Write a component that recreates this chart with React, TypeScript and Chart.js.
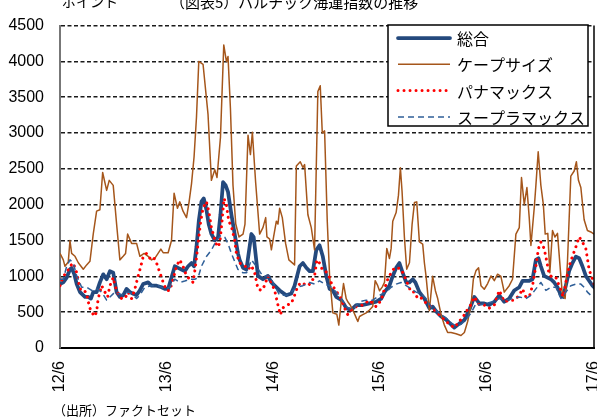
import React, { useEffect, useRef } from "react";
import { Chart, registerables } from "chart.js";

Chart.register(...registerables);

// ---- data (x = months since 2012/6) ----
const tickMonths = [0, 12, 24, 36, 48, 60];
const tickLabels = ["12/6", "13/6", "14/6", "15/6", "16/6", "17/6"];
const seriesNames = ["総合", "ケープサイズ", "パナマックス", "スープラマックス"];
const yTicks = [0, 500, 1000, 1500, 2000, 2500, 3000, 3500, 4000, 4500];

const compositeMonths = [0, 0.37, 0.75, 1.12, 1.31, 1.61, 1.88, 2.25, 2.81, 3.18, 3.48, 3.74, 4.12, 4.49, 4.87, 5.25, 5.62, 5.99, 6.37, 6.74, 7.11, 7.49, 7.87, 8.24, 8.62, 8.99, 9.36, 9.92, 10.3, 10.87, 11.43, 11.8, 12.17, 12.55, 12.92, 13.29, 13.67, 14.04, 14.42, 14.8, 15.09, 15.36, 15.62, 15.92, 16.18, 16.48, 16.74, 17.04, 17.42, 17.79, 18.06, 18.35, 18.65, 18.91, 19.29, 19.66, 20.03, 20.22, 20.6, 20.98, 21.54, 21.8, 22.28, 22.84, 23.4, 23.79, 24.16, 24.72, 25.47, 26.03, 26.4, 26.97, 27.34, 27.72, 28.09, 28.46, 28.84, 29.21, 29.58, 29.97, 30.34, 30.71, 31.09, 31.65, 32.02, 32.21, 32.78, 33.34, 34.08, 34.83, 35.58, 36.15, 36.52, 37.08, 37.45, 37.83, 38.2, 38.57, 38.96, 39.33, 39.7, 40.0, 40.45, 41.01, 41.57, 41.94, 42.33, 42.89, 43.45, 44.01, 44.38, 44.94, 45.51, 46.07, 46.63, 47.19, 47.75, 48.31, 48.88, 49.44, 50.0, 50.56, 51.12, 51.69, 52.06, 52.43, 52.81, 53.18, 53.56, 53.85, 54.12, 54.49, 54.87, 55.25, 55.62, 55.99, 56.37, 56.63, 56.93, 57.3, 57.67, 58.06, 58.43, 58.8, 59.18, 59.55, 59.93, 60.3];
const compositeValues = [893, 916, 983, 1096, 1118, 1028, 893, 780, 713, 713, 690, 780, 780, 916, 1028, 960, 1073, 1051, 780, 713, 735, 825, 780, 758, 740, 803, 893, 916, 870, 870, 848, 825, 825, 983, 1141, 1118, 1096, 1073, 1141, 1186, 1141, 1412, 1772, 2043, 2088, 1930, 1727, 1592, 1502, 1547, 1863, 2314, 2268, 2178, 1863, 1592, 1321, 1230, 1120, 1095, 1591, 1547, 1006, 960, 1006, 915, 870, 803, 735, 760, 870, 1141, 1186, 1120, 1073, 1073, 1366, 1433, 1276, 1006, 825, 800, 713, 670, 600, 555, 532, 600, 600, 622, 645, 690, 780, 870, 1006, 1118, 1186, 1050, 915, 915, 960, 915, 780, 690, 555, 577, 510, 442, 397, 330, 284, 340, 390, 532, 713, 622, 622, 600, 645, 735, 645, 690, 803, 848, 938, 938, 938, 960, 1230, 1253, 1141, 1006, 983, 960, 915, 848, 735, 713, 870, 1073, 1186, 1276, 1253, 1141, 1006, 938, 870, 825];

const capeMonths = [0, 0.37, 0.56, 0.93, 1.12, 1.31, 1.69, 2.06, 2.62, 3.0, 3.37, 3.74, 4.12, 4.49, 4.8, 5.25, 5.54, 5.99, 6.37, 6.74, 7.11, 7.38, 7.61, 8.06, 8.62, 8.99, 9.47, 9.92, 10.3, 10.67, 11.04, 11.35, 11.61, 12.17, 12.55, 12.84, 13.22, 13.48, 13.85, 14.24, 14.53, 14.8, 15.09, 15.36, 15.62, 16.1, 16.66, 17.04, 17.42, 17.67, 18.06, 18.43, 18.73, 18.91, 19.18, 19.47, 19.78, 20.15, 20.6, 20.82, 21.16, 21.43, 21.65, 22.02, 22.47, 22.84, 23.15, 23.29, 23.6, 23.79, 24.04, 24.35, 24.53, 24.72, 25.02, 25.39, 25.76, 26.4, 26.6, 27.04, 27.34, 27.53, 27.9, 28.28, 28.65, 29.02, 29.29, 29.52, 29.78, 30.08, 30.34, 30.71, 31.16, 31.38, 31.65, 31.91, 32.21, 32.39, 32.66, 32.96, 33.34, 33.52, 33.71, 34.08, 34.46, 34.83, 35.2, 35.47, 35.76, 35.96, 36.26, 36.52, 36.78, 37.08, 37.27, 37.45, 37.83, 38.09, 38.31, 38.5, 38.76, 39.02, 39.33, 39.63, 39.89, 40.15, 40.45, 40.82, 41.01, 41.2, 41.57, 41.94, 42.25, 42.51, 42.89, 43.26, 43.63, 44.01, 44.57, 45.13, 45.51, 45.88, 46.26, 46.52, 46.82, 47.11, 47.38, 47.75, 48.13, 48.51, 48.88, 49.25, 49.62, 50.0, 50.56, 50.93, 51.31, 51.69, 51.94, 52.25, 52.55, 52.81, 53.0, 53.37, 53.56, 53.82, 54.12, 54.4, 54.61, 54.9, 55.13, 55.43, 55.7, 55.99, 56.37, 56.55, 56.85, 57.11, 57.49, 57.87, 58.12, 58.35, 58.62, 58.99, 59.36, 59.74, 60.11, 60.3];
const capeValues = [1320, 1230, 1140, 1200, 1500, 1320, 1280, 1190, 1100, 1160, 1210, 1590, 1910, 1930, 2450, 2200, 2340, 2270, 1730, 1230, 1280, 1320, 1590, 1460, 1460, 1280, 1320, 1280, 1230, 1250, 1320, 1380, 1330, 1330, 1500, 2160, 1950, 2040, 1910, 1820, 2040, 2290, 2670, 3220, 4000, 3960, 3260, 2340, 2490, 2380, 2940, 4230, 4000, 4070, 3350, 2270, 1730, 1550, 1590, 1730, 2970, 2700, 3010, 2310, 1590, 1680, 1820, 1550, 1520, 1370, 1550, 1770, 1730, 1950, 1820, 1460, 1230, 1160, 2540, 2600, 2520, 2560, 1860, 1680, 1370, 3580, 3660, 3000, 3030, 1770, 1010, 490, 470, 320, 645, 900, 690, 645, 600, 530, 420, 370, 440, 465, 490, 530, 580, 940, 870, 800, 850, 915, 1390, 1250, 1390, 1770, 1890, 2130, 2515, 2180, 1550, 1100, 1190, 1730, 2030, 2040, 1480, 1450, 1190, 1000, 520, 1000, 800, 690, 465, 320, 216, 216, 200, 175, 216, 370, 600, 960, 1080, 1120, 870, 820, 900, 1006, 940, 1030, 1000, 780, 870, 960, 1590, 1680, 2380, 2000, 2240, 1820, 1430, 1950, 2270, 2740, 2270, 2000, 1590, 1600, 1050, 1640, 1550, 1600, 1000, 735, 690, 1190, 2400, 2470, 2600, 2340, 2240, 1790, 1640, 1620, 1590, 1370];

const panamaxMonths = [0, 0.37, 0.75, 1.12, 1.49, 1.88, 2.25, 2.62, 3.0, 3.18, 3.37, 3.63, 3.93, 4.12, 4.3, 4.69, 5.06, 5.36, 5.62, 5.99, 6.18, 6.55, 6.93, 7.3, 7.67, 8.06, 8.43, 8.8, 9.1, 9.36, 9.74, 10.11, 10.48, 10.87, 11.24, 11.61, 11.99, 12.36, 12.73, 13.11, 13.48, 13.85, 14.24, 14.61, 14.98, 15.25, 15.54, 15.84, 16.1, 16.48, 16.74, 17.04, 17.34, 17.67, 17.98, 18.24, 18.46, 18.73, 18.99, 19.29, 19.66, 19.85, 20.22, 20.79, 21.16, 21.54, 21.91, 22.28, 22.66, 23.03, 23.4, 23.79, 24.16, 24.53, 24.8, 25.09, 25.54, 26.03, 26.4, 26.78, 27.16, 27.53, 27.9, 28.28, 28.65, 28.91, 29.21, 29.52, 29.89, 30.26, 30.64, 31.09, 31.46, 31.65, 32.02, 32.39, 32.78, 33.34, 34.08, 34.83, 35.58, 36.15, 36.52, 36.89, 37.27, 37.64, 38.01, 38.39, 38.76, 39.13, 39.52, 39.89, 40.26, 40.64, 41.01, 41.57, 42.13, 42.7, 43.26, 43.82, 44.38, 44.94, 45.31, 45.69, 46.07, 46.63, 47.19, 47.75, 48.31, 48.88, 49.44, 50.0, 50.56, 51.12, 51.69, 52.06, 52.43, 52.81, 53.18, 53.56, 53.85, 54.12, 54.49, 54.75, 55.06, 55.43, 55.81, 56.18, 56.63, 57.0, 57.3, 57.67, 58.06, 58.43, 58.8, 59.18, 59.55, 59.93, 60.3];
const panamaxValues = [870, 1006, 1051, 1141, 1186, 1051, 825, 825, 758, 645, 555, 487, 442, 510, 690, 870, 780, 713, 870, 983, 870, 758, 690, 690, 780, 690, 825, 1006, 1141, 1276, 1321, 1254, 1276, 1186, 1051, 916, 803, 803, 960, 1141, 1231, 1141, 1006, 960, 916, 1141, 1457, 1772, 1953, 2043, 1908, 1682, 1547, 1412, 1457, 1772, 2088, 1998, 1772, 1700, 1500, 1321, 1186, 1150, 1095, 1150, 1050, 825, 803, 870, 1006, 915, 803, 600, 465, 560, 600, 620, 735, 870, 915, 890, 870, 915, 1006, 1230, 1186, 1095, 1073, 1006, 870, 800, 713, 690, 560, 465, 532, 577, 600, 668, 577, 668, 825, 960, 1050, 1118, 1118, 1100, 1006, 892, 780, 780, 690, 700, 645, 600, 532, 465, 397, 330, 284, 374, 419, 510, 560, 713, 600, 600, 555, 600, 803, 645, 668, 668, 735, 825, 713, 713, 870, 1141, 1388, 1479, 1388, 1230, 1027, 983, 983, 870, 713, 960, 1141, 1276, 1411, 1550, 1479, 1388, 1095, 960, 825];

const supramaxMonths = [0, 0.37, 0.75, 1.12, 1.49, 1.88, 2.44, 3.0, 3.56, 4.12, 4.69, 5.25, 5.62, 6.18, 6.55, 7.11, 7.67, 8.06, 8.62, 8.99, 9.55, 10.3, 11.04, 11.8, 12.36, 12.92, 13.48, 14.04, 14.61, 15.17, 15.54, 15.92, 16.48, 17.04, 17.61, 18.09, 18.54, 18.91, 19.29, 19.66, 20.03, 20.6, 21.0, 21.54, 22.1, 22.81, 23.6, 24.16, 24.72, 25.47, 26.03, 26.6, 27.34, 28.09, 28.65, 29.21, 29.78, 30.34, 31.09, 31.65, 32.21, 32.96, 33.71, 34.46, 35.2, 35.96, 36.71, 37.27, 37.83, 38.39, 38.96, 39.52, 40.08, 40.64, 41.2, 41.76, 42.33, 42.89, 43.45, 44.01, 44.57, 45.13, 45.69, 46.26, 46.82, 47.19, 47.94, 48.69, 49.44, 50.19, 50.93, 51.69, 52.43, 53.0, 53.56, 54.12, 54.69, 55.25, 55.81, 56.37, 56.93, 57.49, 58.06, 58.62, 58.99, 59.36, 59.74, 60.11];
const supramaxValues = [960, 960, 1141, 1231, 1186, 1006, 848, 848, 803, 825, 780, 667, 713, 780, 760, 740, 780, 760, 690, 740, 848, 870, 870, 825, 848, 960, 916, 935, 960, 960, 980, 1141, 1276, 1366, 1502, 1570, 1547, 1457, 1321, 1208, 1096, 1050, 1050, 1230, 1140, 1006, 1006, 870, 735, 735, 780, 848, 870, 915, 892, 938, 892, 870, 780, 690, 577, 532, 645, 668, 668, 735, 780, 848, 892, 915, 870, 825, 780, 758, 690, 577, 532, 465, 419, 352, 307, 330, 397, 487, 622, 600, 622, 645, 690, 668, 690, 713, 690, 735, 825, 915, 803, 848, 848, 690, 780, 870, 892, 892, 848, 780, 735, 713];

const FONT = '"Liberation Sans", "Noto Sans CJK JP", sans-serif';
const JFONT = '"Noto Sans CJK JP", "Liberation Sans", sans-serif';

const styles = [
  { color: "#24497D", width: 3.75, dash: [] as number[], cap: "round" as CanvasLineCap },
  { color: "#A5561B", width: 1.5, dash: [] as number[], cap: "butt" as CanvasLineCap },
  { color: "#FF0000", width: 3, dash: [0.01, 6], cap: "round" as CanvasLineCap },
  { color: "#2F5F98", width: 1.5, dash: [6, 4], cap: "butt" as CanvasLineCap },
];

function pts(xs: number[], ys: number[]) {
  return xs.map((x, i) => ({ x, y: ys[i] }));
}

const decorPlugin = {
  id: "decor",
  afterDraw(chart: any) {
    const ctx: CanvasRenderingContext2D = chart.ctx;
    const a = chart.chartArea;
    ctx.save();
    // right border
    ctx.strokeStyle = "#000";
    ctx.lineWidth = 1.5;
    ctx.setLineDash([]);
    ctx.beginPath();
    ctx.moveTo(a.right, a.top);
    ctx.lineTo(a.right, a.bottom);
    ctx.stroke();

    // legend box
    const lx = 388, ly = 25, lw = 200, lh = 101;
    ctx.fillStyle = "#fff";
    ctx.fillRect(lx, ly, lw, lh);
    ctx.strokeStyle = "#000";
    ctx.lineWidth = 1.5;
    ctx.strokeRect(lx, ly, lw, lh);
    ctx.font = `16px ${JFONT}`;
    ctx.textBaseline = "middle";
    ctx.textAlign = "left";
    seriesNames.forEach((name, i) => {
      const y = ly + 13 + i * 26.3;
      const s = styles[i];
      ctx.save();
      ctx.strokeStyle = s.color;
      ctx.lineWidth = s.width;
      ctx.lineCap = s.cap;
      ctx.setLineDash(s.dash);
      ctx.beginPath();
      ctx.moveTo(398, y);
      ctx.lineTo(450, y);
      ctx.stroke();
      ctx.restore();
      ctx.fillStyle = "#000";
      ctx.fillText(name, 457, y + 1);
    });

    // title (cut off at top), unit and source
    ctx.fillStyle = "#000";
    ctx.textBaseline = "ideographic";
    ctx.font = `15px ${JFONT}`;
    ctx.fillText("（図表5）バルチック海運指数の推移", 170, 10);
    ctx.font = `14px ${JFONT}`;
    ctx.fillText("ポイント", 62, 9);
    ctx.textBaseline = "middle";
    ctx.font = `13px ${JFONT}`;
    ctx.fillText("（出所）ファクトセット", 53, 410);
    ctx.restore();
  },
};

export default function App() {
  const ref = useRef<HTMLCanvasElement | null>(null);

  useEffect(() => {
    if (!ref.current) return;
    const all = [
      pts(compositeMonths, compositeValues),
      pts(capeMonths, capeValues),
      pts(panamaxMonths, panamaxValues),
      pts(supramaxMonths, supramaxValues),
    ];
    const chart = new Chart(ref.current, {
      type: "line",
      data: {
        datasets: all.map((d, i) => ({
          label: seriesNames[i],
          data: d,
          borderColor: styles[i].color,
          borderWidth: styles[i].width,
          borderDash: styles[i].dash,
          borderCapStyle: styles[i].cap,
          borderJoinStyle: "round",
          pointRadius: 0,
          tension: 0,
          fill: false,
          order: 4 - i,
        })),
      },
      options: {
        responsive: false,
        animation: false,
        devicePixelRatio: 1,
        layout: { padding: { top: 15, right: 3, bottom: 0, left: 0 } },
        plugins: { legend: { display: false }, tooltip: { enabled: false } },
        scales: {
          x: {
            type: "linear",
            min: 0,
            max: 60.1,
            afterBuildTicks: (scale: any) => {
              scale.ticks = tickMonths.map((v) => ({ value: v }));
            },
            afterFit: (scale: any) => {
              scale.height = 71;
              scale.paddingLeft = 0;
              scale.paddingRight = 0;
            },
            ticks: {
              autoSkip: false,
              minRotation: 90,
              maxRotation: 90,
              padding: 13,
              color: "#000",
              font: { family: FONT, size: 16 },
              callback: (v: any) => {
                const idx = tickMonths.indexOf(Number(v));
                return idx >= 0 ? tickLabels[idx] : "";
              },
            },
            grid: { display: false, drawTicks: false },
            border: { display: true, color: "#000", width: 2 },
          },
          y: {
            min: 0,
            max: 4500,
            afterBuildTicks: (scale: any) => {
              scale.ticks = yTicks.map((v) => ({ value: v }));
            },
            afterFit: (scale: any) => {
              scale.width = 60;
            },
            ticks: {
              padding: 16,
              color: "#000",
              font: { family: FONT, size: 16 },
              callback: (v: any) => String(v),
            },
            grid: { color: "#1a1a1a", lineWidth: 1.5, drawTicks: false },
            border: { display: true, color: "#777", width: 2, dash: [4, 2.5] },
          },
        },
      },
      plugins: [decorPlugin],
    } as any);
    return () => chart.destroy();
  }, []);

  return (
    <div style={{ position: "absolute", left: 0, top: 0, width: 597, height: 419, background: "#fff" }}>
      <canvas ref={ref} width={597} height={419} style={{ display: "block" }} />
    </div>
  );
}
